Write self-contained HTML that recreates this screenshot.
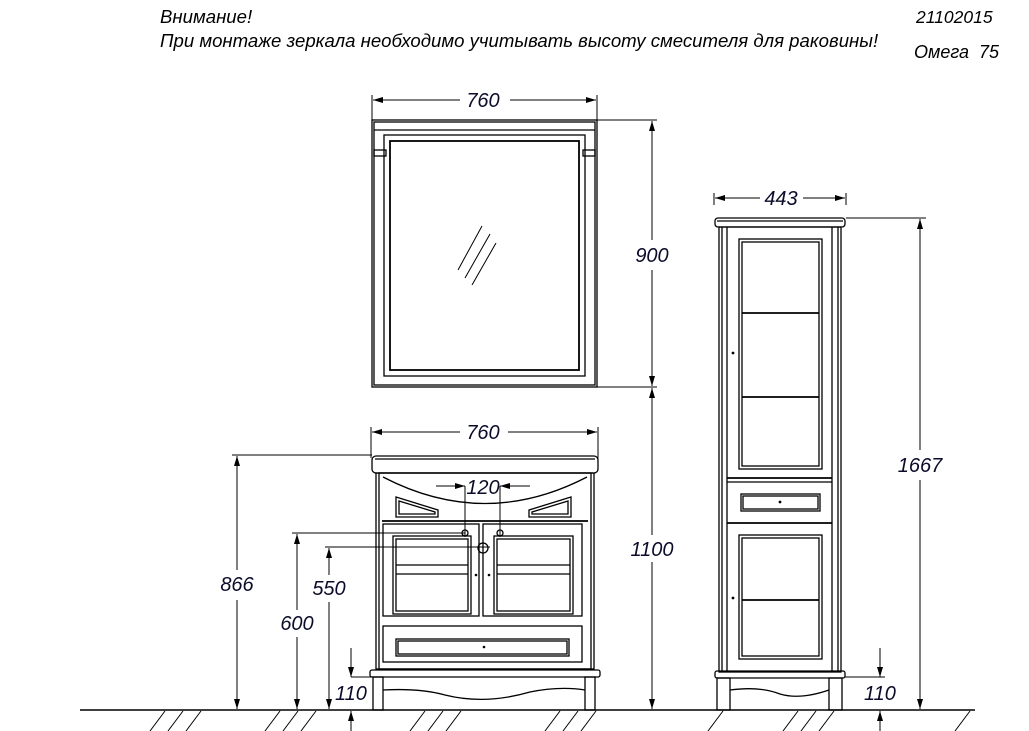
<!DOCTYPE html>
<html><head><meta charset="utf-8"><style>
html,body{margin:0;padding:0;background:#fff;width:1029px;height:731px;overflow:hidden}
svg{display:block}
text{font-family:"Liberation Sans","DejaVu Sans",sans-serif;font-style:italic}
.d{font-size:20px;fill:#0b0b2a}
</style></head><body>
<svg width="1029" height="731" viewBox="0 0 1029 731" xmlns="http://www.w3.org/2000/svg">
<defs>
<marker id="a" viewBox="0 0 10 6" refX="10" refY="3" markerWidth="15" markerHeight="6" markerUnits="userSpaceOnUse" orient="auto-start-reverse"><path d="M0,0L10,3L0,6z" fill="#000"/></marker>
</defs>
<g font-size="18.6" fill="#000">
<text x="160" y="23">Внимание!</text>
<text x="160" y="47">При монтаже зеркала необходимо учитывать высоту смесителя для раковины!</text>
<text x="916" y="23" font-size="17.5">21102015</text>
<text x="914" y="58" font-size="18">Омега&#160;&#160;75</text>
</g>
<g stroke="#000" fill="none" stroke-width="1.3">
<line x1="80" y1="710" x2="975" y2="710" stroke-width="1.6"/>
<path d="M150,731l15,-20M168,731l15,-20M186,731l15,-20M265,731l15,-20M283,731l15,-20M301,731l15,-20M410,731l15,-20M428,731l15,-20M446,731l15,-20M545,731l15,-20M563,731l15,-20M581,731l15,-20M708,731l15,-20M783,731l15,-20M801,731l15,-20M819,731l15,-20M955,731l15,-20" stroke-width="1"/>
<!-- mirror -->
<rect x="372" y="120" width="225" height="267"/>
<rect x="374" y="122" width="221" height="263"/>
<line x1="374" y1="130" x2="595" y2="130"/>
<rect x="384" y="135" width="201" height="241"/>
<rect x="390" y="141" width="189" height="229" stroke-width="1.8"/>
<rect x="374" y="150" width="12" height="6"/><rect x="583" y="150" width="12" height="6"/>
<path d="M458,270L482,226M465,278L490,234M472,285L496,243" stroke-width="1"/>
<g stroke-width="1">
<line x1="372" y1="95" x2="372" y2="120"/><line x1="597" y1="95" x2="597" y2="120"/>
<line x1="373" y1="100" x2="460" y2="100" marker-start="url(#a)"/>
<line x1="510" y1="100" x2="596" y2="100" marker-end="url(#a)"/>
<line x1="597" y1="120" x2="657" y2="120"/><line x1="597" y1="387" x2="657" y2="387"/>
<line x1="652" y1="121" x2="652" y2="240" marker-start="url(#a)"/>
<line x1="652" y1="270" x2="652" y2="386" marker-end="url(#a)"/>
<line x1="652" y1="388" x2="652" y2="535" marker-start="url(#a)"/>
<line x1="652" y1="562" x2="652" y2="709" marker-end="url(#a)"/>
<line x1="371" y1="427" x2="371" y2="458"/><line x1="598" y1="427" x2="598" y2="458"/>
<line x1="372" y1="432" x2="460" y2="432" marker-start="url(#a)"/>
<line x1="508" y1="432" x2="597" y2="432" marker-end="url(#a)"/>
</g>
<!-- vanity -->
<rect x="372" y="456" width="226" height="17" rx="4"/>
<line x1="375" y1="459" x2="595" y2="459"/>
<rect x="376" y="473" width="218" height="196"/>
<rect x="379" y="473" width="212" height="196"/>
<path d="M383,477Q485,530 587,477"/>
<path d="M396,497L438,510L438,517L396,517Z"/><path d="M399,501L435,512L435,514L399,514Z"/>
<path d="M571,497L529,510L529,517L571,517Z"/><path d="M568,501L532,512L532,514L568,514Z"/>
<line x1="382" y1="521" x2="588" y2="521" stroke-width="1.8"/>
<rect x="383" y="524" width="96" height="92"/><rect x="483" y="524" width="99" height="92"/>
<rect x="393" y="536" width="78" height="78"/><rect x="396" y="539" width="72" height="72"/>
<rect x="494" y="536" width="79" height="78"/><rect x="497" y="539" width="73" height="72"/>
<line x1="396" y1="565" x2="468" y2="565"/><line x1="396" y1="574" x2="468" y2="574"/>
<line x1="497" y1="565" x2="570" y2="565"/><line x1="497" y1="574" x2="570" y2="574"/>
<rect x="383" y="626" width="199" height="36"/>
<rect x="396" y="639" width="173" height="17"/><rect x="398" y="641" width="169" height="13"/>
<rect x="370" y="670" width="230" height="7" rx="2"/>
<rect x="373" y="677" width="10" height="33"/><rect x="585" y="677" width="10" height="33"/>
<path d="M383,690Q420,688 445,695Q485,705 530,692Q560,686 585,690"/>
<circle cx="465" cy="533" r="3"/><circle cx="500" cy="533" r="3"/><circle cx="483" cy="548" r="5"/>
<g stroke-width="1">
<line x1="465" y1="486" x2="465" y2="537"/><line x1="500" y1="486" x2="500" y2="537"/>
<line x1="436" y1="486" x2="465" y2="486" marker-end="url(#a)"/>
<line x1="530" y1="486" x2="500" y2="486" marker-end="url(#a)"/>
<line x1="232" y1="455" x2="372" y2="455"/>
<line x1="292" y1="533" x2="465" y2="533"/>
<line x1="325" y1="547" x2="490" y2="547"/>
<line x1="237" y1="456" x2="237" y2="570" marker-start="url(#a)"/>
<line x1="237" y1="600" x2="237" y2="709" marker-end="url(#a)"/>
<line x1="297" y1="534" x2="297" y2="610" marker-start="url(#a)"/>
<line x1="297" y1="637" x2="297" y2="709" marker-end="url(#a)"/>
<line x1="329" y1="548" x2="329" y2="575" marker-start="url(#a)"/>
<line x1="329" y1="602" x2="329" y2="709" marker-end="url(#a)"/>
<line x1="351" y1="648" x2="351" y2="677" marker-end="url(#a)"/>
<line x1="351" y1="731" x2="351" y2="711" marker-end="url(#a)"/>
<line x1="351" y1="677" x2="372" y2="677"/>
<line x1="714" y1="193" x2="714" y2="205"/><line x1="846" y1="193" x2="846" y2="205"/>
<line x1="715" y1="198" x2="760" y2="198" marker-start="url(#a)"/>
<line x1="803" y1="198" x2="845" y2="198" marker-end="url(#a)"/>
<line x1="846" y1="218" x2="926" y2="218"/>
<line x1="920" y1="219" x2="920" y2="450" marker-start="url(#a)"/>
<line x1="920" y1="480" x2="920" y2="709" marker-end="url(#a)"/>
<line x1="845" y1="677" x2="885" y2="677"/>
<line x1="880" y1="648" x2="880" y2="677" marker-end="url(#a)"/>
<line x1="880" y1="731" x2="880" y2="711" marker-end="url(#a)"/>
</g>
<!-- tall cabinet -->
<rect x="715" y="218" width="130" height="9" rx="3"/>
<line x1="717" y1="221" x2="843" y2="221"/>
<rect x="719" y="227" width="122" height="445"/>
<line x1="722" y1="227" x2="722" y2="672"/><line x1="838" y1="227" x2="838" y2="672"/>
<line x1="727" y1="227" x2="727" y2="672"/><line x1="832" y1="227" x2="832" y2="672"/>
<rect x="739" y="239" width="83" height="230"/><rect x="742" y="242" width="77" height="224"/>
<line x1="742" y1="313" x2="819" y2="313" stroke-width="1.8"/><line x1="742" y1="397" x2="819" y2="397" stroke-width="1.8"/>
<line x1="727" y1="478" x2="832" y2="478" stroke-width="1.8"/><line x1="727" y1="482" x2="832" y2="482"/>
<rect x="741" y="494" width="79" height="17"/><rect x="743" y="496" width="75" height="13"/>
<line x1="727" y1="523" x2="832" y2="523" stroke-width="1.8"/>
<rect x="739" y="535" width="83" height="124"/><rect x="742" y="538" width="77" height="118"/>
<line x1="742" y1="600" x2="819" y2="600" stroke-width="1.8"/>
<rect x="715" y="671" width="130" height="7" rx="2"/>
<rect x="717" y="678" width="13" height="32"/><rect x="829" y="678" width="13" height="32"/>
<path d="M730,690Q760,686 780,694Q800,700 829,690"/>
</g>
<g fill="#000">
<circle cx="484" cy="647" r="1.3"/><circle cx="476" cy="575" r="1.3"/><circle cx="489" cy="575" r="1.3"/>
<circle cx="733" cy="353" r="1.4"/><circle cx="780" cy="502" r="1.4"/><circle cx="733" cy="598" r="1.4"/>
</g>
<g class="d">
<text x="483" y="107" text-anchor="middle">760</text>
<text x="652" y="262" text-anchor="middle">900</text>
<text x="652" y="556" text-anchor="middle">1100</text>
<text x="483" y="439" text-anchor="middle">760</text>
<text x="483" y="494" text-anchor="middle">120</text>
<text x="237" y="591" text-anchor="middle">866</text>
<text x="297" y="630" text-anchor="middle">600</text>
<text x="329" y="595" text-anchor="middle">550</text>
<text x="351" y="700" text-anchor="middle">110</text>
<text x="781" y="205" text-anchor="middle">443</text>
<text x="920" y="472" text-anchor="middle">1667</text>
<text x="880" y="700" text-anchor="middle">110</text>
</g>
</svg>
</body></html>
